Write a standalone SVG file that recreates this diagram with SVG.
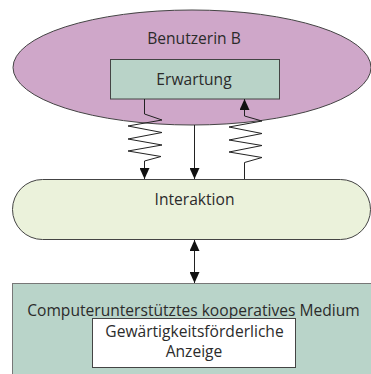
<svg xmlns="http://www.w3.org/2000/svg" width="371" height="374" viewBox="0 0 371 374">
  <style>
    text { font-family: "Open Sans", "Liberation Sans", sans-serif; font-size: 15.6px; fill: #2b2b2b; text-anchor: middle; }
    .edge { fill: none; stroke: #222; stroke-width: 1; }
  </style>
  <defs>
    <marker id="head" viewBox="0 0 11 10" refX="11" refY="5" markerWidth="11" markerHeight="10" markerUnits="userSpaceOnUse" orient="auto-start-reverse">
      <path d="M0,0 L11,5 L0,10 z" fill="#111"/>
    </marker>
  </defs>

  <rect width="371" height="374" fill="#fff"/>

  <!-- user B with expectation -->
  <g id="benutzerin">
    <ellipse cx="192" cy="67.5" rx="179" ry="57.5" fill="#cfa7c9" stroke="#444" stroke-width="1"/>
    <text x="194" y="43.5">Benutzerin B</text>
  </g>
  <g id="erwartung">
    <rect x="110.5" y="59.5" width="169" height="39.5" fill="#b9d3c8" stroke="#444" stroke-width="1"/>
    <text x="194" y="84.5">Erwartung</text>
  </g>

  <!-- interaction band -->
  <g id="interaktion">
    <rect x="12.5" y="179.5" width="358" height="60" rx="30" ry="30" fill="#ebf2db" stroke="#444" stroke-width="1"/>
    <text x="194.5" y="204.5">Interaktion</text>
  </g>

  <!-- cooperative medium -->
  <g id="medium">
    <rect x="12.5" y="283.5" width="370" height="100" fill="#b9d4c9" stroke="#777" stroke-width="1"/>
    <text x="193.5" y="315.5">Computerunterstütztes kooperatives Medium</text>
  </g>
  <g id="anzeige">
    <rect x="92.5" y="318.5" width="203" height="49" fill="#fff" stroke="#444" stroke-width="1"/>
    <text x="194.5" y="337">Gewärtigkeitsförderliche</text>
    <text x="194" y="357">Anzeige</text>
  </g>

  <g id="connectors">
    <path class="edge" d="M144.5,99 V114 L162,120 L128,126 L162,132.5 L128,139 L162,145 L128,151 L161,156.5 L144.5,161 V179" marker-end="url(#head)"/>
    <path class="edge" d="M194.5,125 V179" marker-end="url(#head)"/>
    <path class="edge" d="M244.5,179 V162.5 L262,157.5 L229,152 L262,145.5 L229,140 L262,133.5 L229,127 L262,121 L244.5,116 V99" marker-end="url(#head)"/>
    <path class="edge" d="M194.5,240 V283" marker-start="url(#head)" marker-end="url(#head)"/>
  </g>
</svg>
